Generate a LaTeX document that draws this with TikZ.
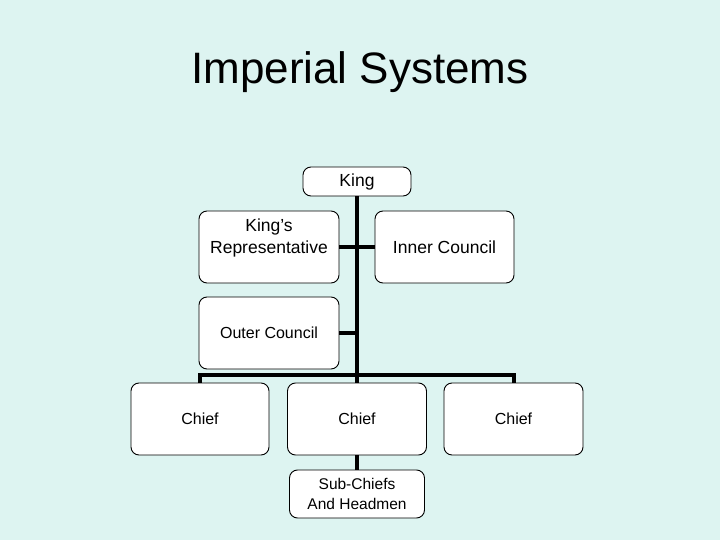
\documentclass[tikz,border=0pt]{standalone}
\usepackage{fontspec}
\setmainfont{Liberation Sans}
\definecolor{slidebg}{HTML}{DDF4F1}
\tikzset{
  box/.style={draw=black,line width=0.9pt,rounded corners=8pt,fill=white,inner sep=0pt},
  link/.style={draw=black,line width=4pt}
}
\begin{document}
\begin{tikzpicture}[x=1pt,y=-1pt]
  \fill[slidebg] (0,0) rectangle (720,540);
  \useasboundingbox (0,0) rectangle (720,540);

  \node[anchor=base,font=\fontsize{44}{50}\selectfont] (title) at (360,84) {Imperial Systems};

  \begin{scope}[every node/.style={box}]
    \node[minimum width=108,minimum height=29,font=\fontsize{17.5}{21}\selectfont] (king) at (357,181.5) {King};
    \node[minimum width=140,minimum height=72,font=\fontsize{17.5}{22}\selectfont] (rep) at (269,247)
      {\raisebox{9pt}[\height][\depth]{\begin{tabular}{@{}c@{}}King’s\\Representative\end{tabular}}};
    \node[minimum width=139,minimum height=72,font=\fontsize{17.5}{22}\selectfont] (inner) at (444.5,247) {Inner Council};
    \node[minimum width=140,minimum height=72,font=\fontsize{16}{20}\selectfont] (outer) at (269,333) {Outer Council};
    \node[minimum width=138,minimum height=72,font=\fontsize{16}{20}\selectfont] (chiefA) at (200,419) {Chief};
    \node[minimum width=139,minimum height=72,font=\fontsize{16}{20}\selectfont] (chiefB) at (357,419) {Chief};
    \node[minimum width=139,minimum height=72,font=\fontsize{16}{20}\selectfont] (chiefC) at (513.5,419) {Chief};
    \node[minimum width=135,minimum height=48,align=center,font=\fontsize{15.5}{20}\selectfont] (sub) at (357,494) {Sub-Chiefs\\And Headmen};
  \end{scope}

  \coordinate (bus) at (357,375);

  \begin{scope}[every path/.style={link}]
    \draw (king.south) -- (chiefB.north);
    \draw (rep.east) -- (inner.west);
    \draw (outer.east) -- (outer.east -| king.south);
    \draw (chiefA.north) |- (bus) -| (chiefC.north);
    \draw (chiefB.south) -- (sub.north);
  \end{scope}
\end{tikzpicture}
\end{document}
